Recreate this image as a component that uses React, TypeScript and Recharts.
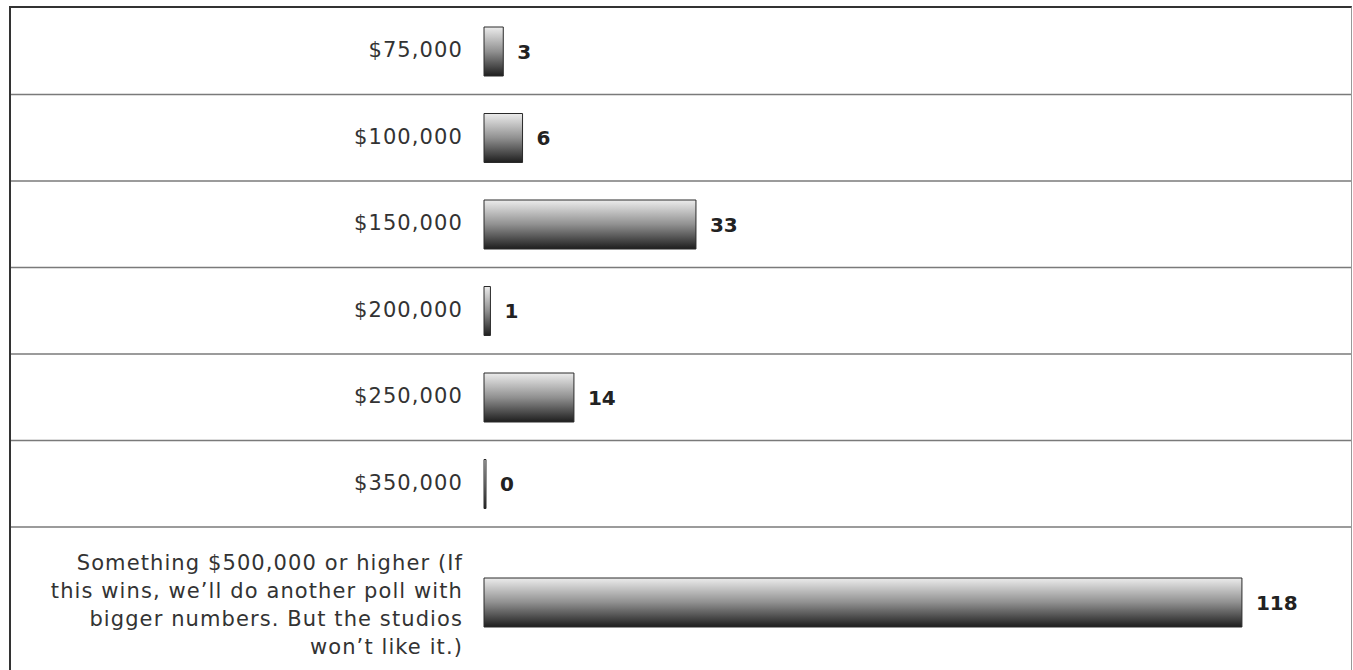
import { BarChart, Bar, XAxis, YAxis, LabelList } from 'recharts';

const categories = [
  '$75,000',
  '$100,000',
  '$150,000',
  '$200,000',
  '$250,000',
  '$350,000',
  'Something $500,000 or higher (If this wins, we’ll do another poll with bigger numbers. But the studios won’t like it.)',
];
const votes = [3, 6, 33, 1, 14, 0, 118];
// how the long answer is broken over lines in the original
const longLabelLines = [
  'Something $500,000 or higher (If',
  'this wins, we’ll do another poll with',
  'bigger numbers. But the studios',
  'won’t like it.)',
];
const xDomain = [0, 130];

const rows = categories.map((name, i) => ({ name, votes: votes[i] }));
const topRows = rows.slice(0, 6);
const bottomRows = rows.slice(6);

const CHART_W = 1340;
const AXIS_W = 473;
const TOP_H = 520;
const BOTTOM_H = 148;
const FONT = '"DejaVu Sans", sans-serif';

function RowTick(props: any) {
  const { x, y, payload, drawLine, half } = props;
  const offset = payload.offset || half;
  const isLong = payload.value === categories[6];
  const textStyle = { letterSpacing: '1.1px' };
  return (
    <g>
      {drawLine && (
        <line x1={0} x2={CHART_W} y1={y + offset} y2={y + offset} stroke="#7a7a7a" strokeWidth={1.5} />
      )}
      {isLong ? (
        <text x={x} y={y + 3} textAnchor="end" fontFamily={FONT} fontSize={21} fill="#333" style={textStyle}>
          {longLabelLines.map((l, i) => (
            <tspan key={i} x={x} dy={i === 0 ? -42 + 7 : 28}>
              {l}
            </tspan>
          ))}
        </text>
      ) : (
        <text x={x} y={y} dy={6} textAnchor="end" fontFamily={FONT} fontSize={21} fill="#333" style={textStyle}>
          {payload.value}
        </text>
      )}
    </g>
  );
}

function Gradient({ id }: { id: string }) {
  return (
    <defs>
      <linearGradient id={id} x1="0" y1="0" x2="0" y2="1">
        <stop offset="0%" stopColor="#ececec" />
        <stop offset="50%" stopColor="#909090" />
        <stop offset="100%" stopColor="#1e1e1e" />
      </linearGradient>
    </defs>
  );
}

function Rows({ data, height, marginBottom, gradId, drawLine }: any) {
  const half = (height - marginBottom) / data.length / 2;
  return (
    <BarChart
      layout="vertical"
      width={CHART_W}
      height={height}
      data={data}
      margin={{ top: 0, right: 32, bottom: marginBottom, left: 0 }}
      barSize={49}
    >
      <Gradient id={gradId} />
      <XAxis type="number" domain={xDomain} hide />
      <YAxis
        type="category"
        dataKey="name"
        width={AXIS_W}
        axisLine={false}
        tickLine={false}
        tickSize={0}
        tickMargin={21}
        interval={0}
        tick={(p: any) => <RowTick {...p} drawLine={drawLine} half={half} />}
      />
      <Bar
        dataKey="votes"
        fill={`url(#${gradId})`}
        stroke="#2a2a2a"
        strokeWidth={1}
        minPointSize={2}
        isAnimationActive={false}
      >
        <LabelList
          dataKey="votes"
          position="right"
          offset={14}
          fill="#222"
          fontFamily={FONT}
          fontSize={20}
          fontWeight="bold"
        />
      </Bar>
    </BarChart>
  );
}

export default function App() {
  return (
    <div
      style={{
        position: 'absolute',
        left: 9,
        top: 6,
        width: CHART_W,
        height: 664,
        overflow: 'hidden',
        borderTop: '2px solid #333',
        borderLeft: '2px solid #333',
        borderRight: '1px solid #999',
        background: '#fff',
      }}
    >
      <Rows data={topRows} height={TOP_H} marginBottom={1} gradId="gradTop" drawLine />
      <Rows data={bottomRows} height={BOTTOM_H} marginBottom={0} gradId="gradBottom" drawLine={false} />
    </div>
  );
}
